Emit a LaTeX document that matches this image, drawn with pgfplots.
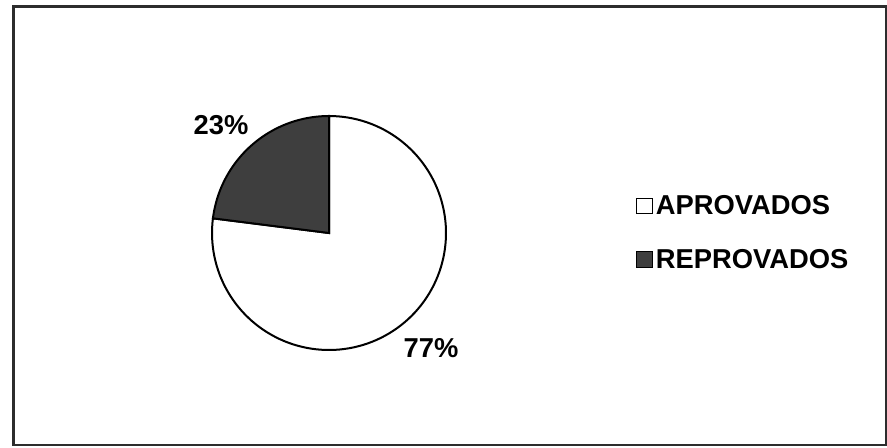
\documentclass[border=0pt]{standalone}
\usepackage{pgfplots}
\pgfplotsset{compat=1.18}
\usepgfplotslibrary{polar}
\usepackage{fontspec}
\setmainfont{Liberation Sans}
\definecolor{darkslice}{RGB}{62,62,62}
\definecolor{framec}{RGB}{45,45,45}
% slice values (percent)
\def\valAprov{77}
\def\valReprov{23}
\begin{document}
\begin{tikzpicture}
\useasboundingbox (0,0) rectangle (665.25pt,335.25pt);
\fill[white] (0,0) rectangle (665.25pt,335.25pt);
\draw[line width=2pt, framec] (9.9pt,1.6pt) rectangle (664.4pt,330.2pt);
\pgfmathsetmacro{\cut}{90+\valReprov*3.6}
\pgfmathsetmacro{\fin}{450}
\begin{polaraxis}[
  at={(246.75pt,160.5pt)}, anchor=center,
  scale only axis, width=175.5pt, height=175.5pt,
  ymin=0, ymax=1, xmin=0, xmax=360,
  hide axis, clip=false,
  font=\fontsize{20.5}{24}\selectfont\bfseries,
  legend style={at={(1.81,0.5)}, anchor=west, draw=none, fill=none,
    inner sep=0pt, row sep=19.5pt,
    nodes={inner sep=2.5pt},
    font=\fontsize{20.5}{24}\selectfont\bfseries,
    legend cell align=left},
  legend image code/.code={\draw[#1, line width=0.8pt] (0pt,-5.8pt) rectangle (11.8pt,6pt);},
]
\addplot[draw=black, line width=1.5pt, fill=white, domain=\cut:\fin, samples=120] {1} -- (axis cs:0,0) -- cycle;
\addlegendentry{APROVADOS}
\addplot[draw=black, line width=1.5pt, fill=darkslice, domain=90:\cut, samples=60] {1} -- (axis cs:0,0) -- cycle;
\addlegendentry{REPROVADOS}
\node at (axis cs:135,1.305) {\valReprov\%};
\node at (axis cs:311.6,1.314) {\valAprov\%};
\end{polaraxis}
\end{tikzpicture}
\end{document}
